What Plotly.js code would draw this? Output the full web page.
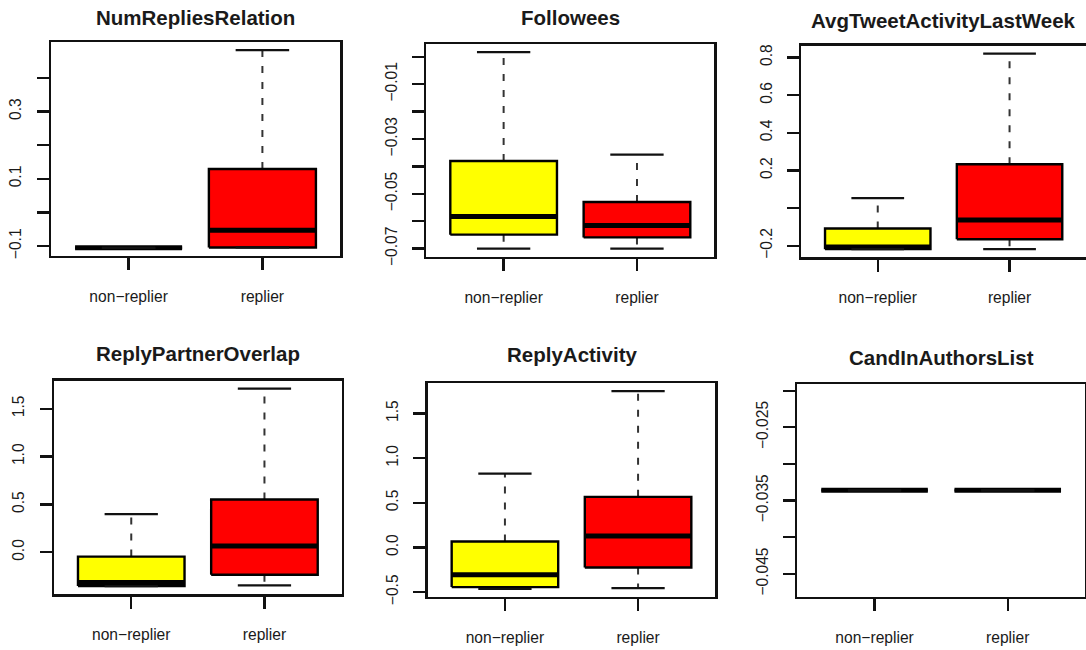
<!DOCTYPE html>
<html>
<head>
<meta charset="utf-8">
<script src="https://cdn.plot.ly/plotly-3.0.1.min.js"></script>
<style>html,body{margin:0;padding:0;background:#fff;}#chart{width:1086px;height:650px;}</style>
</head>
<body>
<div id="chart"></div>
<script>
// ---- data: box statistics [lower whisker, Q1, median, Q3, upper whisker] ----
const groups = ['non\u2212replier', 'replier'];
const groupColors = ['#ffff00', '#ff0000'];

const panelTitles = ['NumRepliesRelation', 'Followees', 'AvgTweetActivityLastWeek',
                     'ReplyPartnerOverlap', 'ReplyActivity', 'CandInAuthorsList'];

const numRepliesNon = [-0.105, -0.105, -0.105, -0.105, -0.105];
const numRepliesRep = [-0.104, -0.104, -0.053, 0.129, 0.482];

const followeesNon = [-0.070, -0.0649, -0.0583, -0.038, 0.0017];
const followeesRep = [-0.070, -0.0659, -0.0616, -0.053, -0.0357];

const avgTweetNon = [-0.218, -0.218, -0.207, -0.108, 0.0535];
const avgTweetRep = [-0.218, -0.165, -0.063, 0.233, 0.821];

const partnerOverlapNon = [-0.353, -0.353, -0.315, -0.045, 0.399];
const partnerOverlapRep = [-0.346, -0.234, 0.066, 0.552, 1.71];

const replyActivityNon = [-0.463, -0.444, -0.306, 0.067, 0.828];
const replyActivityRep = [-0.455, -0.224, 0.127, 0.567, 1.75];

const candAuthorsNon = [-0.0336, -0.0336, -0.0336, -0.0336, -0.0336];
const candAuthorsRep = [-0.0336, -0.0336, -0.0336, -0.0336, -0.0336];

// y tick values and labels (blank = tick without label)
const yTicks1 = [-0.1, 0, 0.1, 0.2, 0.3, 0.4];
const yLabels1 = ['\u22120.1', '', '0.1', '', '0.3', ''];
const yTicks2 = [0, -0.01, -0.02, -0.03, -0.04, -0.05, -0.06, -0.07];
const yLabels2 = ['', '\u22120.01', '', '\u22120.03', '', '\u22120.05', '', '\u22120.07'];
const yTicks3 = [-0.2, 0, 0.2, 0.4, 0.6, 0.8];
const yLabels3 = ['\u22120.2', '', '0.2', '0.4', '0.6', '0.8'];
const yTicks4 = [0, 0.5, 1.0, 1.5];
const yLabels4 = ['0.0', '0.5', '1.0', '1.5'];
const yTicks5 = [-0.5, 0, 0.5, 1.0, 1.5];
const yLabels5 = ['\u22120.5', '0.0', '0.5', '1.0', '1.5'];
const yTicks6 = [-0.02, -0.025, -0.03, -0.035, -0.04, -0.045];
const yLabels6 = ['', '\u22120.025', '', '\u22120.035', '', '\u22120.045'];

// ---- layout geometry (pixels) ----
const W = 1086, H = 650;
const panels = [
  {stats: [numRepliesNon, numRepliesRep], ticks: yTicks1, labels: yLabels1, xpx: [51, 340], ypx: [42.3, 255.7], titleY: 18, mirrorY: true},
  {stats: [followeesNon, followeesRep], ticks: yTicks2, labels: yLabels2, xpx: [426.3, 714.3], ypx: [44.3, 256.5], titleY: 18, mirrorY: true},
  {stats: [avgTweetNon, avgTweetRep], ticks: yTicks3, labels: yLabels3, xpx: [801.3, 1086], ypx: [45.7, 257], titleY: 20, mirrorY: false},
  {stats: [partnerOverlapNon, partnerOverlapRep], ticks: yTicks4, labels: yLabels4, xpx: [54, 341.7], ypx: [380.7, 594], titleY: 353, mirrorY: true},
  {stats: [replyActivityNon, replyActivityRep], ticks: yTicks5, labels: yLabels5, xpx: [427.7, 715.3], ypx: [383.3, 596.7], titleY: 355, mirrorY: true},
  {stats: [candAuthorsNon, candAuthorsRep], ticks: yTicks6, labels: yLabels6, xpx: [797.3, 1085], ypx: [384, 596.7], titleY: 357, mirrorY: true}
];

const BOX_HALF = 0.4, CAP_HALF = 0.2;
const textColor = '#1a1a1a';
const fontFam = 'Liberation Sans, Arial, Helvetica, sans-serif';

function yRange(stats) {
  const all = stats.flat();
  let lo = Math.min(...all), hi = Math.max(...all);
  if (hi - lo < 1e-12) { const a = 1.4 * lo, b = 0.6 * lo; lo = Math.min(a, b); hi = Math.max(a, b); }
  const pad = 0.04 * (hi - lo);
  return [lo - pad, hi + pad];
}

const traces = [];
const layout = {
  width: W, height: H,
  margin: {l: 0, r: 0, t: 0, b: 0},
  paper_bgcolor: '#ffffff', plot_bgcolor: '#ffffff',
  showlegend: false,
  font: {family: fontFam, color: textColor},
  annotations: []
};

panels.forEach((p, k) => {
  const s = k === 0 ? '' : String(k + 1);
  const xa = 'x' + s, ya = 'y' + s;
  p.stats.forEach((st, i) => {
    const pos = i + 1;
    const [lo, q1, med, q3, hi] = st;
    const base = {xaxis: xa, yaxis: ya, mode: 'lines', hoverinfo: 'skip', type: 'scatter'};
    // whiskers (dashed)
    traces.push(Object.assign({}, base, {x: [pos, pos], y: [q3, hi], line: {color: '#333', width: 2, dash: '7px,9px'}}));
    traces.push(Object.assign({}, base, {x: [pos, pos], y: [q1, lo], line: {color: '#333', width: 2, dash: '7px,9px'}}));
    // box
    traces.push(Object.assign({}, base, {
      x: [pos - BOX_HALF, pos + BOX_HALF, pos + BOX_HALF, pos - BOX_HALF, pos - BOX_HALF],
      y: [q1, q1, q3, q3, q1],
      fill: 'toself', fillcolor: groupColors[i],
      line: {color: '#000', width: 2.4}
    }));
    // median
    traces.push(Object.assign({}, base, {x: [pos - BOX_HALF, pos + BOX_HALF], y: [med, med], line: {color: '#000', width: 5}}));
    // caps
    traces.push(Object.assign({}, base, {x: [pos - CAP_HALF, pos + CAP_HALF], y: [hi, hi], line: {color: '#111', width: 2.3}}));
    traces.push(Object.assign({}, base, {x: [pos - CAP_HALF, pos + CAP_HALF], y: [lo, lo], line: {color: '#111', width: 2.3}}));
  });

  const xd = [p.xpx[0] / W, p.xpx[1] / W];
  const yd = [1 - p.ypx[1] / H, 1 - p.ypx[0] / H];
  layout['xaxis' + s] = {
    domain: xd, range: [0.42, 2.58], anchor: ya,
    tickvals: [1, 2], ticktext: groups,
    ticks: 'outside', ticklen: 12, tickwidth: 2.3, tickcolor: '#111',
    showline: true, mirror: true, linecolor: '#111', linewidth: 2.5,
    showgrid: false, zeroline: false, fixedrange: true,
    tickfont: {family: fontFam, size: 15.6, color: textColor},
    ticklabelstandoff: 13
  };
  layout['yaxis' + s] = {
    domain: yd, range: yRange(p.stats), anchor: xa,
    tickvals: p.ticks, ticktext: p.labels, tickangle: -90,
    ticks: 'outside', ticklen: 12, tickwidth: 2.3, tickcolor: '#111',
    showline: true, mirror: p.mirrorY, linecolor: '#111', linewidth: 2.5,
    showgrid: false, zeroline: false, fixedrange: true,
    tickfont: {family: fontFam, size: 15.6, color: textColor},
    ticklabelstandoff: 9
  };
  layout.annotations.push({
    text: panelTitles[k], showarrow: false,
    xref: 'paper', yref: 'paper',
    x: (xd[0] + xd[1]) / 2, y: 1 - p.titleY / H,
    xanchor: 'center', yanchor: 'middle',
    font: {family: fontFam, size: 20.5, weight: 'bold', color: textColor}
  });
});

Plotly.newPlot('chart', traces, layout, {staticPlot: true, displayModeBar: false});
</script>
</body>
</html>
